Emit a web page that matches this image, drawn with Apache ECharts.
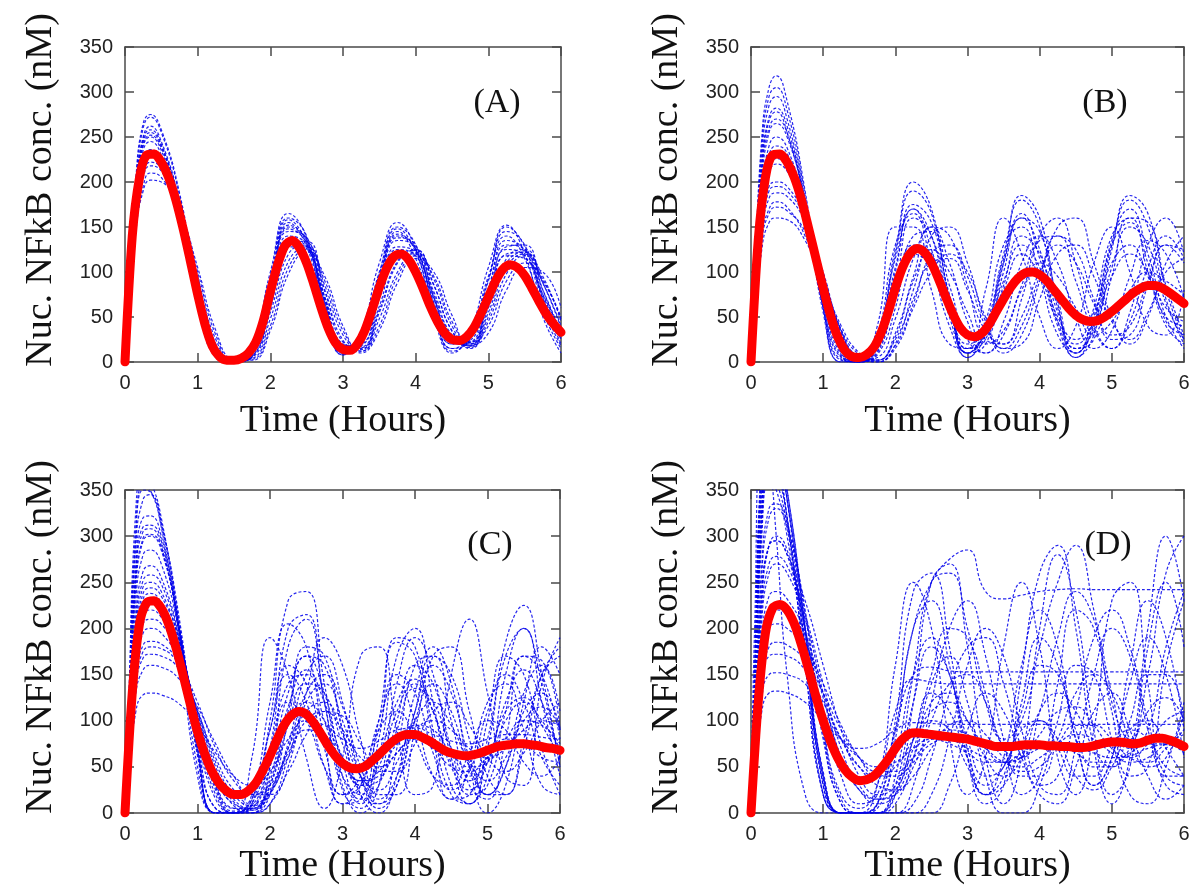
<!DOCTYPE html>
<html>
<head>
<meta charset="utf-8">
<title>Nuc. NFkB conc.</title>
<script src="https://cdn.jsdelivr.net/npm/echarts@6/dist/echarts.min.js"></script>
<style>
html, body { margin: 0; padding: 0; background: #fff; }
#chart { width: 1200px; height: 894px; }
</style>
</head>
<body>
<div id="chart"></div>
<script>
// sample times (hours) shared by every single-cell trace
var timeGrid = [0, 0.05, 0.15, 0.25, 0.35, 0.5, 0.75, 1, 1.25, 1.5, 1.75, 2, 2.25, 2.5, 2.75, 3, 3.25, 3.5, 3.75, 4, 4.25, 4.5, 4.75, 5, 5.25, 5.5, 5.75, 6];
// finer sample times for the mean curves
var meanTime = [0, 0.1, 0.2, 0.3, 0.4, 0.5, 0.6, 0.7, 0.8, 0.9, 1, 1.1, 1.2, 1.3, 1.4, 1.5, 1.6, 1.7, 1.8, 1.9, 2, 2.1, 2.2, 2.3, 2.4, 2.5, 2.6, 2.7, 2.8, 2.9, 3, 3.1, 3.2, 3.3, 3.4, 3.5, 3.6, 3.7, 3.8, 3.9, 4, 4.1, 4.2, 4.3, 4.4, 4.5, 4.6, 4.7, 4.8, 4.9, 5, 5.1, 5.2, 5.3, 5.4, 5.5, 5.6, 5.7, 5.8, 5.9, 6];
var panelLabels = ['(A)', '(B)', '(C)', '(D)'];
var yTitle = 'Nuc. NFkB conc. (nM)';
var xTitle = 'Time (Hours)';

// mean curves (red)
var meanA = [0, 140, 205, 230, 231, 222, 205, 180, 148, 112, 75, 42, 18, 6, 2, 2, 4, 10, 22, 45, 78, 108, 129, 135, 127, 110, 86, 60, 37, 21, 14, 13, 20, 35, 58, 83, 104, 117, 120, 114, 100, 82, 62, 45, 32, 25, 24, 28, 38, 54, 72, 90, 103, 108, 105, 96, 82, 67, 53, 42, 33];
var meanB = [0, 135, 205, 230, 231, 222, 205, 180, 148, 115, 82, 52, 28, 13, 6, 5, 8, 16, 32, 55, 82, 105, 120, 126, 122, 110, 92, 72, 53, 38, 30, 28, 32, 42, 56, 70, 83, 93, 99, 100, 97, 90, 80, 70, 60, 52, 47, 45, 46, 50, 56, 63, 70, 77, 82, 85, 85, 82, 77, 71, 65];
var meanC = [0, 130, 205, 228, 230, 222, 205, 180, 150, 118, 88, 64, 45, 32, 24, 20, 20, 24, 32, 46, 62, 80, 96, 106, 110, 107, 98, 86, 73, 62, 54, 49, 48, 50, 56, 63, 71, 78, 83, 85, 85, 82, 78, 73, 68, 65, 63, 62, 63, 65, 68, 71, 73, 74, 75, 75, 74, 73, 71, 70, 68];
var meanD = [0, 120, 195, 222, 226, 220, 205, 182, 155, 126, 100, 78, 60, 47, 39, 35, 36, 40, 48, 58, 70, 80, 86, 87, 86, 85, 84, 83, 82, 81, 80, 78, 76, 74, 72, 72, 72, 73, 74, 74, 74, 73, 73, 72, 72, 71, 71, 72, 74, 76, 77, 77, 76, 75, 76, 79, 81, 81, 79, 76, 72];

// single-cell traces (blue dashed)
var tracesA = [
    [0, 70, 200, 260, 272, 255, 185, 80, 8, 0, 15, 95, 160, 140, 60, 10, 30, 100, 150, 130, 60, 15, 25, 90, 145, 130, 70, 20],
    [0, 50, 150, 195, 210, 205, 170, 100, 30, 2, 3, 40, 105, 125, 90, 35, 12, 40, 95, 118, 95, 45, 20, 40, 90, 110, 90, 50],
    [0, 65, 190, 245, 255, 240, 175, 72, 6, 0, 10, 80, 150, 135, 65, 12, 22, 90, 140, 125, 65, 20, 22, 80, 130, 125, 75, 28],
    [0, 55, 165, 215, 228, 220, 172, 90, 20, 1, 5, 55, 120, 130, 78, 22, 15, 55, 110, 125, 85, 35, 18, 50, 105, 120, 95, 45],
    [0, 60, 180, 235, 245, 230, 168, 70, 8, 0, 12, 85, 155, 128, 55, 10, 28, 95, 145, 115, 55, 15, 30, 95, 140, 115, 55, 15],
    [0, 52, 158, 205, 218, 212, 170, 95, 25, 2, 4, 48, 112, 128, 85, 30, 12, 48, 100, 122, 92, 40, 15, 45, 98, 118, 92, 48],
    [0, 68, 195, 250, 262, 245, 178, 75, 5, 0, 14, 90, 158, 132, 58, 8, 25, 98, 148, 122, 58, 12, 28, 92, 150, 128, 62, 18],
    [0, 58, 172, 225, 236, 226, 170, 82, 12, 0, 8, 70, 140, 130, 68, 15, 18, 75, 128, 122, 72, 25, 20, 65, 120, 122, 80, 32],
    [0, 62, 185, 240, 250, 235, 172, 74, 7, 0, 10, 75, 145, 138, 72, 18, 20, 80, 135, 128, 75, 28, 18, 60, 115, 125, 88, 38],
    [0, 54, 162, 210, 222, 215, 170, 88, 18, 1, 6, 60, 128, 126, 72, 20, 16, 62, 118, 120, 78, 30, 22, 70, 125, 118, 70, 25],
    [0, 66, 192, 248, 258, 242, 176, 76, 6, 0, 12, 82, 152, 136, 66, 14, 24, 88, 142, 126, 66, 20, 24, 82, 135, 124, 72, 26],
    [0, 56, 168, 220, 232, 222, 171, 86, 15, 0, 6, 62, 132, 134, 80, 24, 14, 58, 112, 124, 86, 34, 16, 55, 110, 122, 88, 40],
    [0, 72, 205, 265, 275, 258, 188, 82, 10, 0, 18, 100, 165, 138, 55, 8, 35, 110, 155, 125, 50, 10, 35, 105, 152, 120, 50, 10],
    [0, 48, 145, 190, 202, 200, 168, 105, 35, 3, 2, 35, 98, 122, 95, 40, 10, 35, 88, 115, 100, 52, 18, 32, 80, 105, 100, 60],
    [0, 63, 186, 242, 252, 238, 174, 78, 9, 0, 11, 78, 148, 132, 62, 12, 20, 85, 138, 130, 72, 22, 20, 72, 128, 130, 80, 30],
    [0, 57, 170, 222, 234, 224, 171, 84, 14, 0, 7, 66, 136, 128, 70, 18, 17, 70, 125, 118, 70, 26, 22, 68, 118, 115, 75, 34]
];
var tracesB = [
    [0, 90, 250, 305, 318, 290, 190, 60, 0, 0, 20, 120, 190, 165, 70, 10, 40, 120, 180, 150, 60, 10, 40, 130, 180, 150, 70, 20],
    [0, 45, 140, 170, 178, 172, 140, 85, 30, 5, 2, 25, 70, 110, 115, 80, 35, 20, 50, 100, 130, 110, 65, 30, 40, 90, 130, 110],
    [0, 80, 230, 285, 295, 270, 180, 60, 2, 0, 30, 130, 165, 110, 40, 5, 45, 130, 150, 95, 30, 10, 60, 140, 160, 100, 40, 20],
    [0, 60, 175, 225, 235, 225, 170, 85, 15, 0, 8, 60, 140, 145, 85, 25, 10, 45, 110, 140, 110, 50, 15, 35, 95, 135, 120, 70],
    [0, 50, 150, 190, 195, 190, 160, 100, 35, 5, 0, 20, 80, 140, 150, 110, 45, 10, 30, 90, 150, 160, 110, 50, 20, 50, 110, 140],
    [0, 75, 215, 268, 278, 255, 175, 65, 5, 0, 25, 115, 170, 125, 50, 10, 35, 115, 165, 115, 40, 5, 45, 135, 170, 120, 50, 15],
    [0, 55, 165, 210, 220, 212, 168, 90, 22, 2, 5, 48, 115, 150, 110, 45, 10, 30, 85, 135, 140, 90, 35, 15, 45, 105, 140, 115],
    [0, 85, 240, 295, 305, 280, 185, 55, 0, 0, 40, 150, 150, 80, 20, 15, 80, 160, 120, 50, 15, 40, 110, 150, 100, 40, 30, 80],
    [0, 65, 190, 240, 250, 238, 172, 78, 10, 0, 15, 85, 160, 140, 65, 10, 20, 85, 140, 120, 55, 15, 35, 105, 150, 130, 65, 25],
    [0, 40, 125, 155, 160, 158, 135, 90, 40, 10, 0, 15, 60, 100, 120, 100, 50, 15, 20, 70, 120, 130, 95, 45, 25, 55, 100, 115],
    [0, 70, 200, 255, 265, 250, 178, 72, 8, 0, 18, 100, 175, 155, 75, 15, 25, 100, 160, 145, 70, 15, 25, 95, 160, 155, 85, 30],
    [0, 58, 172, 218, 226, 218, 170, 82, 15, 0, 10, 70, 120, 105, 55, 15, 30, 80, 120, 95, 45, 20, 45, 95, 120, 100, 60, 45],
    [0, 78, 220, 272, 282, 262, 178, 62, 3, 0, 28, 125, 200, 170, 70, 5, 30, 110, 185, 160, 65, 5, 30, 125, 185, 165, 80, 25],
    [0, 48, 145, 182, 188, 184, 155, 95, 32, 6, 2, 28, 90, 125, 100, 55, 20, 35, 80, 110, 95, 60, 30, 45, 80, 100, 90, 75],
    [0, 62, 182, 230, 240, 232, 172, 80, 12, 0, 12, 75, 130, 120, 60, 20, 35, 90, 130, 105, 50, 25, 55, 110, 130, 95, 50, 40],
    [0, 52, 155, 195, 200, 195, 162, 98, 34, 4, 2, 32, 95, 150, 140, 85, 25, 20, 70, 140, 160, 110, 40, 15, 55, 130, 160, 120],
    [0, 72, 210, 260, 270, 255, 178, 70, 6, 0, 20, 105, 170, 140, 60, 10, 35, 110, 160, 125, 45, 10, 50, 130, 155, 110, 45, 30],
    [0, 44, 135, 165, 172, 168, 145, 92, 36, 8, 0, 18, 65, 120, 130, 95, 40, 15, 40, 95, 140, 125, 70, 25, 30, 85, 130, 125]
];
var tracesC = [
    [0, 120, 330, 370, 360, 320, 200, 50, 0, 0, 10, 100, 230, 240, 140, 40, 10, 80, 190, 180, 90, 20, 10, 80, 170, 200, 120, 40],
    [0, 40, 110, 128, 130, 128, 118, 95, 65, 40, 30, 45, 80, 100, 95, 80, 70, 78, 90, 92, 85, 78, 75, 80, 85, 85, 82, 80],
    [0, 100, 290, 340, 345, 315, 210, 70, 0, 0, 0, 50, 180, 210, 120, 30, 0, 30, 140, 190, 150, 60, 10, 40, 150, 200, 140, 50],
    [0, 70, 200, 245, 250, 240, 185, 100, 30, 5, 5, 40, 115, 155, 120, 60, 30, 50, 110, 140, 110, 55, 35, 60, 110, 125, 95, 60],
    [0, 55, 160, 195, 200, 195, 165, 110, 50, 15, 5, 20, 70, 130, 150, 115, 50, 15, 40, 110, 160, 130, 60, 20, 50, 130, 160, 110],
    [0, 110, 310, 355, 350, 310, 190, 40, 0, 0, 60, 190, 150, 60, 5, 60, 170, 180, 90, 20, 30, 150, 210, 130, 40, 30, 140, 190],
    [0, 80, 230, 280, 285, 270, 195, 85, 15, 0, 15, 90, 160, 140, 70, 20, 30, 90, 150, 130, 65, 25, 45, 110, 150, 120, 60, 30],
    [0, 50, 145, 175, 180, 178, 160, 120, 70, 35, 20, 30, 65, 100, 110, 90, 60, 50, 65, 90, 100, 90, 70, 60, 70, 90, 100, 95],
    [0, 95, 270, 320, 322, 300, 200, 65, 0, 0, 5, 70, 200, 215, 120, 25, 5, 60, 170, 200, 120, 30, 10, 70, 185, 225, 150, 50],
    [0, 60, 175, 215, 220, 212, 175, 105, 40, 10, 5, 30, 95, 140, 130, 75, 30, 35, 90, 135, 120, 70, 40, 55, 100, 120, 100, 70],
    [0, 65, 190, 232, 238, 228, 182, 100, 32, 5, 3, 35, 100, 120, 100, 60, 35, 45, 75, 95, 90, 65, 50, 55, 80, 100, 95, 75],
    [0, 85, 245, 295, 300, 285, 200, 80, 5, 0, 20, 120, 205, 180, 80, 10, 15, 100, 185, 170, 80, 15, 20, 100, 170, 150, 70, 20],
    [0, 45, 130, 155, 160, 158, 145, 115, 75, 40, 20, 20, 45, 85, 110, 105, 75, 45, 45, 75, 110, 120, 95, 60, 45, 65, 100, 120],
    [0, 75, 215, 262, 268, 255, 190, 90, 20, 0, 10, 70, 140, 150, 100, 40, 20, 60, 120, 145, 110, 50, 25, 55, 120, 155, 120, 60],
    [0, 50, 140, 168, 172, 170, 155, 110, 60, 25, 10, 25, 75, 150, 170, 120, 40, 5, 30, 110, 170, 150, 80, 20, 20, 80, 150, 170],
    [0, 90, 260, 305, 308, 290, 195, 70, 0, 0, 0, 30, 110, 170, 160, 90, 20, 0, 40, 130, 180, 140, 50, 0, 30, 120, 180, 150],
    [0, 62, 180, 222, 228, 220, 180, 105, 40, 8, 0, 10, 60, 120, 140, 100, 40, 10, 30, 100, 140, 110, 50, 20, 50, 110, 130, 90],
    [0, 88, 250, 298, 302, 288, 198, 75, 5, 0, 15, 90, 150, 120, 50, 10, 30, 100, 140, 100, 40, 15, 50, 120, 140, 90, 30, 20],
    [0, 58, 165, 205, 210, 205, 172, 108, 45, 12, 3, 22, 70, 110, 120, 85, 40, 25, 55, 100, 120, 95, 55, 35, 60, 100, 115, 90],
    [0, 105, 300, 350, 348, 312, 205, 62, 0, 0, 0, 20, 100, 180, 170, 90, 20, 10, 70, 160, 170, 100, 30, 15, 80, 170, 165, 90],
    [0, 68, 195, 238, 244, 235, 186, 98, 28, 2, 8, 60, 120, 100, 50, 20, 40, 90, 110, 80, 40, 30, 65, 100, 90, 55, 40, 60],
    [0, 52, 150, 182, 186, 183, 162, 112, 55, 20, 8, 22, 60, 90, 85, 55, 35, 40, 65, 80, 70, 50, 45, 60, 80, 75, 60, 55],
    [0, 92, 262, 310, 312, 295, 198, 68, 0, 0, 0, 10, 50, 130, 190, 160, 80, 20, 20, 90, 170, 180, 110, 40, 20, 70, 150, 180],
    [0, 72, 208, 252, 258, 248, 188, 95, 25, 0, 5, 50, 130, 170, 130, 55, 15, 30, 100, 160, 140, 70, 20, 30, 110, 170, 150, 80]
];
var tracesD = [
    [0, 150, 380, 420, 400, 350, 200, 30, 0, 0, 0, 40, 150, 250, 260, 200, 120, 80, 100, 180, 250, 290, 220, 120, 80, 150, 260, 300],
    [0, 120, 330, 390, 380, 320, 160, 20, 0, 0, 10, 90, 200, 250, 275, 285, 240, 232, 236, 240, 242, 243, 242, 242, 242, 242, 242, 242],
    [0, 60, 180, 220, 225, 220, 185, 110, 40, 10, 20, 90, 150, 158, 154, 153, 153, 153, 153, 153, 153, 153, 153, 153, 153, 153, 153, 153],
    [0, 80, 240, 290, 295, 280, 200, 90, 20, 5, 30, 110, 145, 142, 140, 140, 140, 140, 140, 140, 140, 140, 140, 140, 140, 140, 140, 140],
    [0, 200, 400, 380, 300, 150, 20, 0, 0, 0, 0, 20, 120, 250, 270, 180, 60, 10, 60, 200, 280, 220, 90, 20, 50, 180, 250, 180],
    [0, 120, 330, 390, 380, 320, 160, 20, 0, 0, 5, 80, 200, 230, 160, 60, 20, 60, 160, 220, 180, 80, 30, 60, 160, 230, 190, 90],
    [0, 100, 300, 360, 350, 300, 170, 40, 0, 0, 0, 0, 30, 120, 200, 230, 170, 80, 20, 40, 140, 220, 200, 110, 40, 50, 160, 230],
    [0, 80, 230, 290, 300, 285, 200, 80, 10, 0, 10, 100, 240, 260, 180, 60, 10, 30, 150, 260, 290, 200, 70, 10, 60, 200, 300, 230],
    [0, 60, 180, 215, 220, 215, 185, 130, 80, 50, 40, 50, 80, 110, 120, 100, 70, 55, 60, 85, 110, 115, 95, 70, 60, 75, 100, 110],
    [0, 50, 145, 170, 172, 170, 155, 120, 80, 50, 30, 25, 40, 70, 95, 100, 85, 60, 45, 50, 75, 95, 95, 80, 60, 55, 70, 90],
    [0, 130, 350, 400, 390, 340, 190, 30, 0, 0, 0, 0, 0, 20, 80, 160, 200, 170, 90, 30, 20, 70, 150, 200, 170, 90, 30, 20],
    [0, 90, 260, 320, 330, 310, 220, 90, 15, 0, 10, 60, 150, 190, 150, 80, 40, 50, 110, 160, 150, 90, 50, 50, 100, 150, 150, 100],
    [0, 110, 310, 370, 360, 310, 180, 45, 0, 0, 30, 160, 250, 200, 80, 20, 60, 180, 250, 180, 60, 20, 90, 230, 250, 140, 40, 40],
    [0, 40, 110, 130, 132, 130, 120, 100, 80, 70, 75, 90, 98, 97, 96, 96, 96, 96, 96, 96, 96, 96, 96, 96, 96, 96, 96, 96],
    [0, 70, 210, 260, 270, 260, 210, 130, 60, 25, 15, 20, 50, 100, 140, 150, 120, 70, 40, 40, 80, 130, 150, 130, 80, 50, 60, 110],
    [0, 140, 370, 410, 400, 350, 200, 40, 0, 0, 0, 0, 10, 60, 130, 180, 190, 140, 70, 30, 40, 110, 190, 220, 180, 100, 40, 30],
    [0, 50, 150, 180, 185, 182, 165, 130, 90, 60, 45, 45, 60, 80, 90, 85, 70, 55, 50, 60, 75, 85, 80, 65, 55, 60, 75, 85],
    [0, 85, 240, 290, 295, 280, 230, 160, 90, 40, 20, 30, 80, 150, 200, 190, 130, 70, 60, 110, 190, 240, 210, 130, 70, 90, 180, 240],
    [0, 95, 270, 330, 335, 315, 215, 85, 10, 0, 0, 20, 80, 130, 110, 60, 30, 50, 90, 100, 70, 40, 40, 70, 90, 80, 50, 40],
    [0, 65, 190, 235, 240, 232, 195, 125, 60, 25, 10, 20, 60, 100, 90, 50, 20, 30, 70, 100, 80, 40, 25, 50, 90, 100, 70, 40],
    [0, 160, 390, 430, 410, 340, 180, 20, 0, 0, 0, 0, 0, 0, 30, 90, 130, 110, 60, 20, 10, 50, 110, 130, 90, 40, 15, 30],
    [0, 45, 125, 150, 152, 150, 140, 110, 80, 60, 50, 55, 70, 80, 75, 65, 55, 55, 65, 75, 75, 65, 55, 55, 65, 75, 75, 65],
    [0, 75, 220, 270, 278, 268, 215, 140, 70, 30, 15, 25, 70, 120, 130, 100, 60, 40, 60, 110, 130, 110, 70, 50, 70, 110, 125, 100],
    [0, 115, 320, 380, 370, 320, 180, 35, 0, 0, 0, 10, 60, 140, 170, 120, 40, 0, 0, 30, 100, 160, 150, 80, 20, 10, 50, 120],
    [0, 55, 165, 200, 205, 200, 180, 140, 95, 60, 40, 40, 55, 75, 80, 70, 60, 55, 60, 70, 75, 72, 65, 60, 62, 70, 74, 70],
    [0, 140, 360, 410, 395, 340, 200, 40, 0, 0, 0, 30, 120, 180, 150, 70, 20, 40, 120, 190, 160, 80, 30, 60, 140, 190, 150, 60]
];

var allTraces = [tracesA, tracesB, tracesC, tracesD];
var allMeans = [meanA, meanB, meanC, meanD];

// plot rectangles of the four panels
var rects = [
    { left: 125, top: 47, width: 436, height: 315, nameGapX: 40 },
    { left: 751, top: 47, width: 433, height: 315, nameGapX: 40 },
    { left: 125, top: 490, width: 435, height: 323, nameGapX: 34 },
    { left: 751, top: 490, width: 433, height: 323, nameGapX: 34 }
];
var labelPos = [[497, 103], [1105, 103], [490, 545], [1108, 545]];
var yTitlePos = [[41, 190], [667, 190], [41, 637], [667, 637]];

var serif = '"Liberation Serif", "Times New Roman", serif';
var sans = '"Liberation Sans", Arial, sans-serif';
var axisColor = '#4a4a4a';

function toPoints(times, values) {
    return times.map(function (t, k) { return [t, values[k]]; });
}

var grids = [], xAxes = [], yAxes = [], series = [], graphics = [];

rects.forEach(function (r) {
    grids.push({ left: r.left, top: r.top, width: r.width, height: r.height, outerBoundsMode: 'none' });
});

// bottom / left axes with labels
rects.forEach(function (r, i) {
    xAxes.push({
        type: 'value', gridIndex: i, min: 0, max: 6, interval: 1, position: 'bottom',
        name: xTitle, nameLocation: 'middle', nameGap: r.nameGapX,
        nameTextStyle: { fontFamily: serif, fontSize: 38, color: '#111' },
        axisLine: { show: true, onZero: false, lineStyle: { color: axisColor, width: 1.5 } },
        axisTick: { show: true, inside: true, length: 9, lineStyle: { color: axisColor, width: 1.5 } },
        axisLabel: { fontFamily: sans, fontSize: 20, color: '#222', margin: 11 },
        splitLine: { show: false }
    });
    yAxes.push({
        type: 'value', gridIndex: i, min: 0, max: 350, interval: 50, position: 'left',
        axisLine: { show: true, onZero: false, lineStyle: { color: axisColor, width: 1.5 } },
        axisTick: { show: true, inside: true, length: 9, lineStyle: { color: axisColor, width: 1.5 } },
        axisLabel: { fontFamily: sans, fontSize: 20, color: '#222', margin: 12 },
        splitLine: { show: false }
    });
});

// mirrored top / right axes (ticks only)
rects.forEach(function (r, i) {
    xAxes.push({
        type: 'value', gridIndex: i, min: 0, max: 6, interval: 1, position: 'top',
        axisLine: { show: true, onZero: false, lineStyle: { color: axisColor, width: 1.5 } },
        axisTick: { show: true, inside: true, length: 9, lineStyle: { color: axisColor, width: 1.5 } },
        axisLabel: { show: false }, splitLine: { show: false }
    });
    yAxes.push({
        type: 'value', gridIndex: i, min: 0, max: 350, interval: 50, position: 'right',
        axisLine: { show: true, onZero: false, lineStyle: { color: axisColor, width: 1.5 } },
        axisTick: { show: true, inside: true, length: 9, lineStyle: { color: axisColor, width: 1.5 } },
        axisLabel: { show: false }, splitLine: { show: false }
    });
});

allTraces.forEach(function (traces, i) {
    traces.forEach(function (tr) {
        series.push({
            type: 'line', xAxisIndex: i, yAxisIndex: i, data: toPoints(timeGrid, tr),
            smooth: 0.5, showSymbol: false, silent: true, clip: true, z: 2,
            lineStyle: { color: 'rgba(0,0,235,0.85)', width: 1.2, type: [3, 2] }
        });
    });
    series.push({
        type: 'line', xAxisIndex: i, yAxisIndex: i, data: toPoints(meanTime, allMeans[i]),
        smooth: 0.3, showSymbol: false, silent: true, clip: true, z: 5,
        lineStyle: { color: '#ff0000', width: 9, cap: 'round', join: 'round' }
    });
});

labelPos.forEach(function (p, i) {
    graphics.push({
        type: 'text', x: p[0], y: p[1], z: 10,
        style: { text: panelLabels[i], font: '34px ' + serif, fill: '#111', align: 'center', verticalAlign: 'middle' }
    });
});
yTitlePos.forEach(function (p) {
    graphics.push({
        type: 'text', x: p[0], y: p[1], rotation: Math.PI / 2, z: 10,
        style: { text: yTitle, font: '38px ' + serif, fill: '#111', align: 'center', verticalAlign: 'middle' }
    });
});

var chart = echarts.init(document.getElementById('chart'), null, { renderer: 'canvas' });
chart.setOption({
    animation: false,
    backgroundColor: '#fff',
    grid: grids,
    xAxis: xAxes,
    yAxis: yAxes,
    series: series,
    graphic: graphics
});
</script>
</body>
</html>
